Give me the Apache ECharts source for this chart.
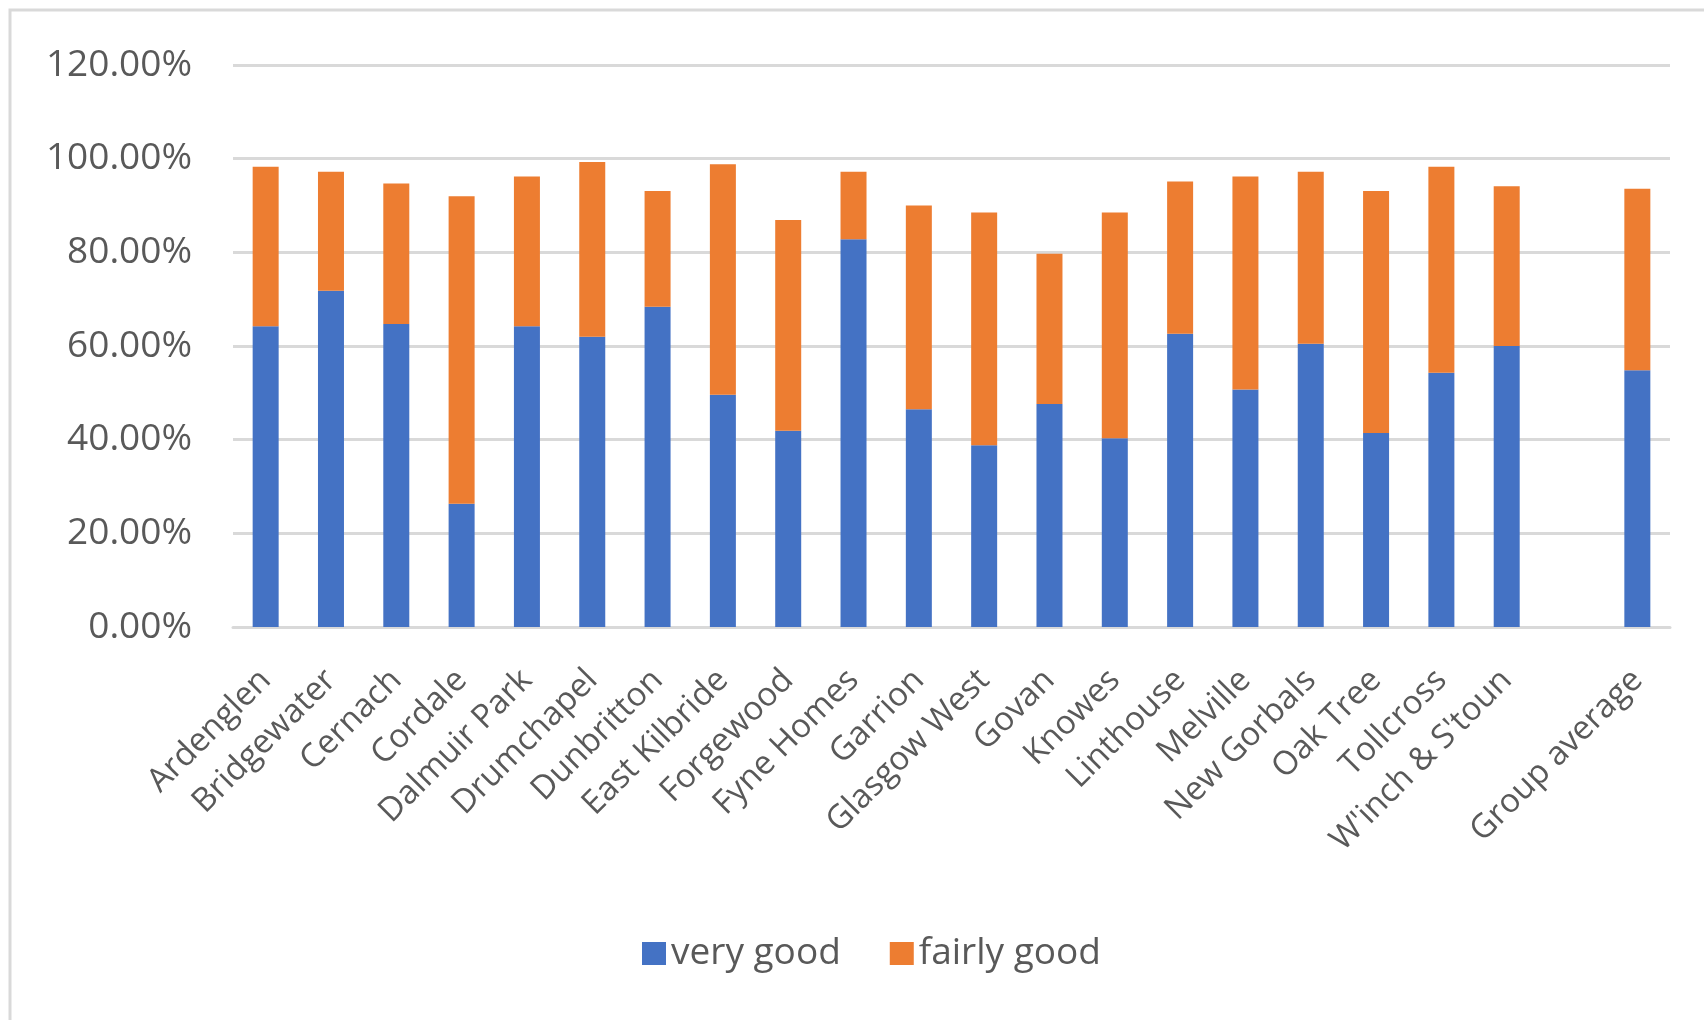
<!DOCTYPE html>
<html>
<head>
<meta charset="utf-8">
<title>very good / fairly good</title>
<script src="https://cdn.jsdelivr.net/npm/echarts@6/dist/echarts.min.js"></script>
<style>
  html, body { margin: 0; padding: 0; background: #fff; }
  #chart { width: 1704px; height: 1020px; }
</style>
</head>
<body>
<div id="chart"></div>
<script>
// landlords, last slot left blank before the group average
const categories = [
  'Ardenglen', 'Bridgewater', 'Cernach', 'Cordale', 'Dalmuir Park',
  'Drumchapel', 'Dunbritton', 'East Kilbride', 'Forgewood', 'Fyne Homes',
  'Garrion', 'Glasgow West', 'Govan', 'Knowes', 'Linthouse',
  'Melville', 'New Gorbals', 'Oak Tree', 'Tollcross', "W'inch & S'toun",
  '', 'Group average'
]

// percent values
const veryGood = [
  64.2, 71.8, 64.7, 26.3, 64.2,
  62.0, 68.4, 49.6, 41.9, 82.8,
  46.5, 38.8, 47.6, 40.3, 62.6,
  50.7, 60.5, 41.4, 54.3, 60.0,
  null, 54.8
]
const fairlyGood = [
  34.1, 25.4, 30.0, 65.7, 32.0,
  37.3, 24.7, 49.2, 45.0, 14.4,
  43.5, 49.7, 32.1, 48.2, 32.5,
  45.5, 36.7, 51.7, 44.0, 34.1,
  null, 38.8
]

const yTicks = { min: 0, max: 120, interval: 20 }

const textColor = '#595959'
const gridColor = '#d9d9d9'
const font = "'Open Sans', sans-serif"

const chart = echarts.init(document.getElementById('chart'))

chart.setOption({
  animation: false,
  backgroundColor: '#fff',
  graphic: [{
    type: 'rect',
    shape: { x: 10, y: 10, width: 1760, height: 1100 },
    style: { fill: 'none', stroke: gridColor, lineWidth: 3 },
    silent: true
  }],
  legend: {
    left: 637,
    top: 930,
    itemWidth: 24,
    itemHeight: 23,
    itemGap: 49,
    icon: 'rect',
    textStyle: { color: textColor, fontSize: 37, fontFamily: font },
    data: ['very good', 'fairly good']
  },
  grid: {
    left: 233,
    right: 34,
    top: 65,
    bottom: 393
  },
  xAxis: {
    type: 'category',
    data: categories,
    axisTick: { show: false },
    axisLine: { lineStyle: { color: gridColor, width: 3 } },
    axisLabel: {
      interval: 0,
      rotate: 45,
      margin: 48,
      color: textColor,
      fontSize: 33,
      fontFamily: font
    }
  },
  yAxis: {
    type: 'value',
    min: yTicks.min,
    max: yTicks.max,
    interval: yTicks.interval,
    axisLine: { show: false },
    axisTick: { show: false },
    splitLine: { lineStyle: { color: gridColor, width: 3 } },
    axisLabel: {
      margin: 41,
      color: textColor,
      fontSize: 37,
      fontFamily: font,
      formatter: v => v.toFixed(2) + '%'
    }
  },
  series: [{
    name: 'very good',
    type: 'bar',
    stack: 'total',
    barWidth: 26,
    itemStyle: { color: '#4472c4' },
    data: veryGood
  }, {
    name: 'fairly good',
    type: 'bar',
    stack: 'total',
    barWidth: 26,
    itemStyle: { color: '#ed7d31' },
    data: fairlyGood
  }]
})
</script>
</body>
</html>
